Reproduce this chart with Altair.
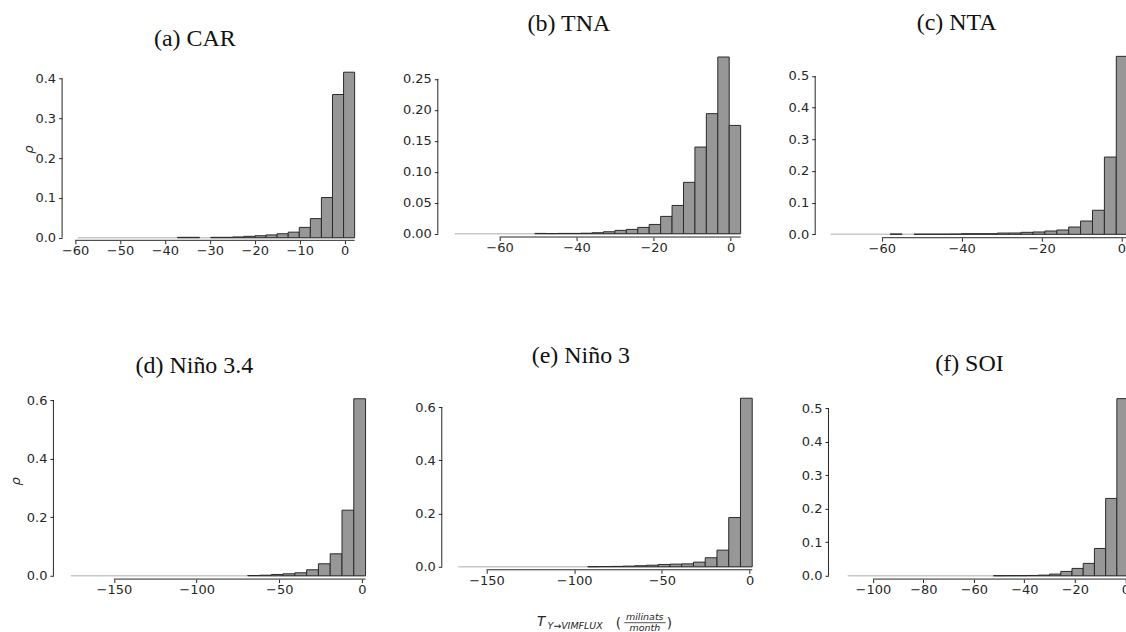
import altair as alt
import pandas as pd

# ---------------- data ----------------
titles = ["(a) CAR", "(b) TNA", "(c) NTA", "(d) Niño 3.4", "(e) Niño 3", "(f) SOI"]

# histogram of T_{Y->VIMFLUX}: left edge of the first bin, bin width, probability per bin (25 bins)
car_start, car_step = -59.4, 2.465
car_rho = [0, 0, 0, 0, 0, 0, 0, 0, 0, 0.001, 0.001, 0, 0.001, 0.001, 0.002,
           0.0035, 0.005, 0.007, 0.010, 0.014, 0.026, 0.048, 0.101, 0.360, 0.416]

tna_start, tna_step = -71.6, 2.968
tna_rho = [0, 0, 0, 0, 0, 0, 0, 0.0005, 0.0003, 0.0005, 0.0005, 0.0008, 0.0016,
           0.0032, 0.0054, 0.007, 0.0102, 0.015, 0.028, 0.0457, 0.083, 0.140,
           0.194, 0.2855, 0.175]

nta_start, nta_step = -72.8, 2.98
nta_rho = [0, 0, 0, 0, 0, 0.001, 0, 0.0005, 0.0005, 0.0005, 0.0008, 0.002, 0.002,
           0.002, 0.004, 0.0042, 0.0063, 0.0074, 0.0105, 0.0137, 0.023, 0.042,
           0.076, 0.244, 0.562]

nino34_start, nino34_step = -176.0, 7.128
nino34_rho = [0, 0, 0, 0, 0, 0, 0, 0, 0, 0, 0, 0, 0, 0, 0, 0.001, 0.002, 0.0045,
              0.0068, 0.0102, 0.0205, 0.041, 0.075, 0.224, 0.6045]

nino3_start, nino3_step = -166.0, 6.7
nino3_rho = [0, 0, 0, 0, 0, 0, 0, 0, 0, 0, 0, 0.0005, 0.001, 0.0015, 0.0025, 0.004,
             0.006, 0.0088, 0.010, 0.011, 0.0175, 0.034, 0.0625, 0.185, 0.633]

soi_start, soi_step = -110.0, 4.444
soi_rho = [0, 0, 0, 0, 0, 0, 0, 0, 0, 0, 0, 0, 0, 0.0003, 0.0005, 0.0005, 0.001,
           0.002, 0.005, 0.013, 0.022, 0.037, 0.0816, 0.231, 0.529]

# tick values
car_xticks = [-60, -50, -40, -30, -20, -10, 0]
car_yticks = [0, 0.1, 0.2, 0.3, 0.4]
tna_xticks = [-60, -40, -20, 0]
tna_yticks = [0, 0.05, 0.10, 0.15, 0.20, 0.25]
nta_xticks = [-60, -40, -20, 0]
nta_yticks = [0, 0.1, 0.2, 0.3, 0.4, 0.5]
nino34_xticks = [-150, -100, -50, 0]
nino34_yticks = [0, 0.2, 0.4, 0.6]
nino3_xticks = [-150, -100, -50, 0]
nino3_yticks = [0, 0.2, 0.4, 0.6]
soi_xticks = [-100, -80, -60, -40, -20, 0]
soi_yticks = [0, 0.1, 0.2, 0.3, 0.4, 0.5]

y_label = "ρ"
x_label_parts = ["T", "Y→VIMFLUX", "(", "milinats", "month", ")"]

# ---------------- layout (pixels in the 1126x632 page) ----------------
GEOM = {
    "car":    dict(left=53.3,  right=437.7,  top=50.0,  base=236.7, zero=345.0,  xppu=4.5,   yppu=398.5, yaxis=62.0,  xaxis=239.3, title=(195.0, 44.5), rho=(28.0, 148.0)),
    "tna":    dict(left=437.7, right=815.0,  top=50.0,  base=232.7, zero=731.0,  xppu=3.858, yppu=620.0, yaxis=437.7, xaxis=236.0, title=(569.0, 29.3)),
    "nta":    dict(left=815.0, right=1126.0, top=50.0,  base=233.3, zero=1121.7, xppu=4.0,   yppu=317.2, yaxis=815.0, xaxis=236.7, title=(956.7, 28.3)),
    "nino34": dict(left=53.3,  right=437.7,  top=392.0, base=575.0, zero=362.3,  xppu=1.656, yppu=293.3, yaxis=53.3,  xaxis=578.3, title=(194.5, 371.7), rho=(15.0, 480.0)),
    "nino3":  dict(left=437.7, right=815.0,  top=392.0, base=566.0, zero=750.0,  xppu=1.757, yppu=266.7, yaxis=441.7, xaxis=569.0, title=(581.0, 361.7)),
    "soi":    dict(left=815.0, right=1126.0, top=392.0, base=575.0, zero=1125.6, xppu=2.528, yppu=335.4, yaxis=828.3, xaxis=578.3, title=(969.5, 370.0)),
}

# pieces of the x-axis label of panel (e): x, baseline y, font size, style, align
XLABEL_STYLE = [
    (537.0, 625.0, 13.5, "italic", "left"),
    (547.5, 628.0, 9.5, "italic", "left"),
    (616.0, 627.0, 13.5, "normal", "left"),
    (645.0, 619.5, 9.5, "italic", "center"),
    (645.0, 630.5, 9.5, "italic", "center"),
    (667.0, 627.0, 13.5, "normal", "left"),
]
FRACTION_BAR = (624.5, 666.0, 622.0)

BAR_FILL = "#979797"
BAR_EDGE = "#2a2a2a"
INK = "#262626"


def panel(key, title, start, step, rho, xticks, yticks, yfmt, with_rho=False, extra=None):
    g = GEOM[key]
    n = len(rho)
    lo = [start + i * step for i in range(n)]
    hi = [start + (i + 1) * step for i in range(n)]
    df = pd.DataFrame({"lo": lo, "hi": hi, "rho": rho, "zero": [0.0] * n})

    vw = g["right"] - g["left"]
    vh = g["base"] - g["top"]
    xs = alt.Scale(domain=[(g["left"] - g["zero"]) / g["xppu"], (g["right"] - g["zero"]) / g["xppu"]],
                   nice=False, zero=False)
    ys = alt.Scale(domain=[0, vh / g["yppu"]], nice=False, zero=False)
    yoff = g["left"] - g["yaxis"]
    xoff = g["xaxis"] - g["base"]

    xaxis = alt.Axis(values=xticks, format="d", offset=xoff, title=None)
    if with_rho:
        yaxis = alt.Axis(values=yticks, format=yfmt, offset=yoff, title=y_label,
                         titleX=g["rho"][0] - g["yaxis"], titleY=g["rho"][1] - g["top"],
                         titleAngle=270, titleAlign="center", titleBaseline="middle")
    else:
        yaxis = alt.Axis(values=yticks, format=yfmt, offset=yoff, title=None)

    X = lambda f: alt.X(f, scale=xs, axis=xaxis)
    Y = lambda f: alt.Y(f, scale=ys, axis=yaxis)

    baseline = alt.Chart(pd.DataFrame({"lo": [lo[0]], "hi": [hi[-1]], "rho": [0.0]})).mark_rule(
        color="#c8c8c8", strokeWidth=1.5
    ).encode(x=X("lo:Q"), x2="hi", y=Y("rho:Q"))

    bars = alt.Chart(df).transform_filter(alt.datum.rho > 0).mark_rect(
        fill=BAR_FILL, stroke=BAR_EDGE, strokeWidth=1
    ).encode(x=X("lo:Q"), x2="hi", y=Y("rho:Q"), y2="zero")

    xspine = alt.Chart(pd.DataFrame({"lo": [xticks[0]], "hi": [hi[-1]]})).mark_rule(
        color=INK, strokeWidth=1
    ).encode(x=X("lo:Q"), x2="hi", y=alt.value(vh + xoff))

    yspine = alt.Chart(pd.DataFrame({"rho": [0.0], "zero": [yticks[-1]]})).mark_rule(
        color=INK, strokeWidth=1
    ).encode(y=Y("rho:Q"), y2="zero", x=alt.value(-yoff))

    ttl = alt.Chart(pd.DataFrame({"t": [title]})).mark_text(
        font="Liberation Serif", fontSize=24, color="#111111", align="center", baseline="alphabetic"
    ).encode(text="t:N", x=alt.value(g["title"][0] - g["left"]), y=alt.value(g["title"][1] - g["top"]))

    layers = [baseline, bars, xspine, yspine, ttl]

    if extra:
        for txt, (ax, ay, fs, style, align) in zip(x_label_parts, XLABEL_STYLE):
            layers.append(
                alt.Chart(pd.DataFrame({"t": [txt]})).mark_text(
                    font="DejaVu Sans", fontSize=fs, fontStyle=style, color=INK,
                    align=align, baseline="alphabetic"
                ).encode(text="t:N", x=alt.value(ax - g["left"]), y=alt.value(ay - g["top"]))
            )
        fx0, fx1, fy = FRACTION_BAR
        layers.append(
            alt.Chart(pd.DataFrame({"k": [0]})).mark_rule(color=INK, strokeWidth=0.8).encode(
                x=alt.value(fx0 - g["left"]), x2=alt.value(fx1 - g["left"]), y=alt.value(fy - g["top"])
            )
        )

    return alt.layer(*layers).properties(width=vw, height=vh)


pa = panel("car", titles[0], car_start, car_step, car_rho, car_xticks, car_yticks, ".1f", with_rho=True)
pb = panel("tna", titles[1], tna_start, tna_step, tna_rho, tna_xticks, tna_yticks, ".2f")
pc = panel("nta", titles[2], nta_start, nta_step, nta_rho, nta_xticks, nta_yticks, ".1f")
pd_ = panel("nino34", titles[3], nino34_start, nino34_step, nino34_rho, nino34_xticks, nino34_yticks, ".1f", with_rho=True)
pe = panel("nino3", titles[4], nino3_start, nino3_step, nino3_rho, nino3_xticks, nino3_yticks, ".1f", extra=True)
pf = panel("soi", titles[5], soi_start, soi_step, soi_rho, soi_xticks, soi_yticks, ".1f")

row1_h = max(GEOM[k]["base"] - GEOM[k]["top"] for k in ("car", "tna", "nta"))
row_gap = GEOM["nino34"]["top"] - GEOM["car"]["top"] - row1_h

chart = (
    alt.concat(pa, pb, pc, pd_, pe, pf, columns=3, spacing={"row": row_gap, "column": 0},
               bounds="flush", align="each")
    .properties(padding={"left": 8.5, "top": 9.9, "right": -3.7, "bottom": 0}, background="white")
    .configure_view(stroke=None)
    .configure_axis(
        labelFont="DejaVu Sans", labelFontSize=13, labelColor=INK,
        tickColor=INK, tickSize=3.5, tickWidth=1,
        domain=False, grid=False, labelFlush=False, labelOverlap=False,
        titleFont="DejaVu Sans", titleFontSize=13, titleColor=INK,
        titleFontWeight="normal", titleFontStyle="italic",
    )
    .configure_axisX(labelPadding=1)
    .configure_axisY(labelPadding=3)
)

chart.save("out.html", embed_options={"renderer": "svg", "actions": False})
